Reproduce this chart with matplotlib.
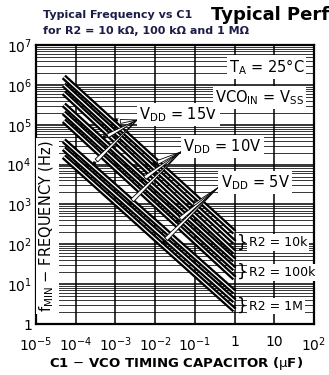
import numpy as np
import matplotlib as mpl
import matplotlib.pyplot as plt
from matplotlib.ticker import LogLocator, NullFormatter

plt.rcParams['font.family'] = ['Liberation Sans Narrow', 'DejaVu Sans']
plt.rcParams['mathtext.fontset'] = 'custom'
plt.rcParams['mathtext.rm'] = 'Liberation Sans Narrow'
plt.rcParams['mathtext.it'] = 'Liberation Sans Narrow'
plt.rcParams['mathtext.bf'] = 'Liberation Sans Narrow:bold'

#%% data: fmin vs C1, straight lines on log-log between end points
c1_ends = [5e-5, 1.0]                       # uF
vdd_levels = ['15V', '10V', '5V']
r2_groups = ['10k', '100k', '1M']
# log10(f) at c1_ends, rows = VDD 15/10/5 V
logf_10k = [[6.20, 2.30], [6.00, 2.05], [5.80, 1.80]]
logf_100k = [[5.50, 1.60], [5.30, 1.38], [5.10, 1.15]]
logf_1M = [[4.60, 0.80], [4.40, 0.58], [4.20, 0.35]]
curves = {'10k': logf_10k, '100k': logf_100k, '1M': logf_1M}

xticks = [1e-5, 1e-4, 1e-3, 1e-2, 1e-1, 1, 10, 100]
xticklabels = ['$10^{-5}$', '$10^{-4}$', '$10^{-3}$', '$10^{-2}$', '$10^{-1}$', '1', '10', '$10^{2}$']
yticks = [1, 1e1, 1e2, 1e3, 1e4, 1e5, 1e6, 1e7]
yticklabels = ['1', '$10^{1}$', '$10^{2}$', '$10^{3}$', '$10^{4}$', '$10^{5}$', '$10^{6}$', '$10^{7}$']

navy = '#1c1c48'

fig = plt.figure(figsize=(3.29, 3.75), dpi=100)
fig.patch.set_facecolor('white')
ax = fig.add_axes([36/329, 1-324/375, 278/329, 279/375])
ax.set_xscale('log')
ax.set_yscale('log')
ax.set_xlim(1e-5, 1e2)
ax.set_ylim(1, 1e7)

# ---------- grid -------------------
ax.xaxis.set_minor_locator(LogLocator(base=10, subs=np.arange(2, 10)))
ax.yaxis.set_minor_locator(LogLocator(base=10, subs=np.arange(2, 10)))
ax.xaxis.set_minor_formatter(NullFormatter())
ax.yaxis.set_minor_formatter(NullFormatter())
ax.grid(True, which='major', color='k', lw=1.1, zorder=1)
ax.grid(True, which='minor', color='k', lw=0.55, zorder=1)
ax.set_axisbelow(True)
for s in ax.spines.values():
    s.set_linewidth(1.6)
ax.tick_params(which='both', length=0, pad=3)
ax.tick_params(axis='x', pad=8)

ax.set_xticks(xticks)
ax.set_xticklabels(xticklabels, fontsize=10)
ax.set_yticks(yticks)
ax.set_yticklabels(yticklabels, fontsize=10)

# ---------- curves (black with white centre stripe) -------------------
def logf_at(group, i, c):
    a, b = curves[group][i]
    lx0, lx1 = np.log10(c1_ends)
    return 10 ** (a + (b - a) * (np.log10(c) - lx0) / (lx1 - lx0))

for g in r2_groups:
    for i in range(len(vdd_levels)):
        f = [10 ** v for v in curves[g][i]]
        ax.plot(c1_ends, f, color='k', lw=4.2, solid_capstyle='butt', zorder=3)
        ax.plot(c1_ends, f, color='white', lw=0.9, solid_capstyle='butt', zorder=4)

# ---------- VDD labels with wedge pointers -------------------
box = dict(boxstyle='square,pad=0.15', fc='white', ec='none')
vdd_text = {'15V': (10**-2.4, 10**5.26), '10V': (10**-1.3, 10**4.45), '5V': (10**-0.35, 10**3.55)}
vdd_tip = {'15V': (10**-2.45, 10**5.12), '10V': (10**-1.35, 10**4.32), '5V': (10**-0.42, 10**3.42)}
vdd_targets = {'15V': [-3.05, -3.35, -3.6], '10V': [-2.1, -2.4, -2.7], '5V': [-1.15, -1.5, -1.85]}

for i, v in enumerate(vdd_levels):
    tx, ty = vdd_text[v]
    ax.text(tx, ty, '$\\mathregular{V_{DD}}$ = ' + v, fontsize=10.5, ha='left', va='center',
            bbox=box, zorder=7)
    for g, lc in zip(r2_groups, vdd_targets[v]):
        c = 10 ** lc
        f = logf_at(g, i, c)
        ax.annotate('', xy=vdd_tip[v], xytext=(c, f),
                    arrowprops=dict(arrowstyle='wedge,tail_width=0.28,shrink_factor=0.5',
                                    fc='white', ec='k', lw=0.6, shrinkA=5, shrinkB=0),
                    zorder=6)
        ax.annotate('', xy=(c, f), xytext=(c * 10**0.12, f * 10**0.09),
                    arrowprops=dict(arrowstyle='-|>', color='k', lw=0.6,
                                    mutation_scale=6, shrinkA=0, shrinkB=0),
                    zorder=6)

# ---------- conditions box -------------------
ax.text(0.965, 0.955, '$\\mathregular{T_A}$ = 25°C', transform=ax.transAxes, fontsize=10.5,
        ha='right', va='top', bbox=box, zorder=7)
ax.text(0.965, 0.845, '$\\mathregular{VCO_{IN}}$ = $\\mathregular{V_{SS}}$', transform=ax.transAxes,
        fontsize=10.5, ha='right', va='top', bbox=box, zorder=7)

# ---------- R2 brackets -------------------
r2_y = {'10k': 10**2.05, '100k': 10**1.3, '1M': 10**0.45}
for g in r2_groups:
    ax.text(1.12, r2_y[g], '}', fontsize=12, ha='left', va='center', zorder=7)
    ax.text(2.3, r2_y[g], 'R2 = ' + g, fontsize=9, ha='left', va='center',
            bbox=box, zorder=7)

# ---------- axis labels -------------------
ax.text(0.04, 0.35, '$\\mathregular{f_{MIN}}$ $-$ FREQUENCY (Hz)', transform=ax.transAxes,
        rotation=90, fontsize=10.5, ha='center', va='center', bbox=box, zorder=7)
fig.text(176/329, 1-363/375, 'C1 $-$ VCO TIMING CAPACITOR ($\\mu$F)', fontsize=9.5,
         fontweight='bold', ha='center', va='center')

# ---------- titles -------------------
fig.text(43/329, 1-15/375, 'Typical Frequency vs C1', fontsize=8, fontweight='bold',
         color=navy, family='DejaVu Sans', ha='left', va='center')
fig.text(43/329, 1-31/375, 'for R2 = 10 k\u03a9, 100 k\u03a9 and 1 M\u03a9', fontsize=8,
         fontweight='bold', color=navy, family='DejaVu Sans', ha='left', va='center')
fig.text(211/329, 1-15/375, 'Typical Performance', fontsize=13, fontweight='bold',
         color='black', family='DejaVu Sans', ha='left', va='center')

fig.savefig('out.png', dpi=100)
